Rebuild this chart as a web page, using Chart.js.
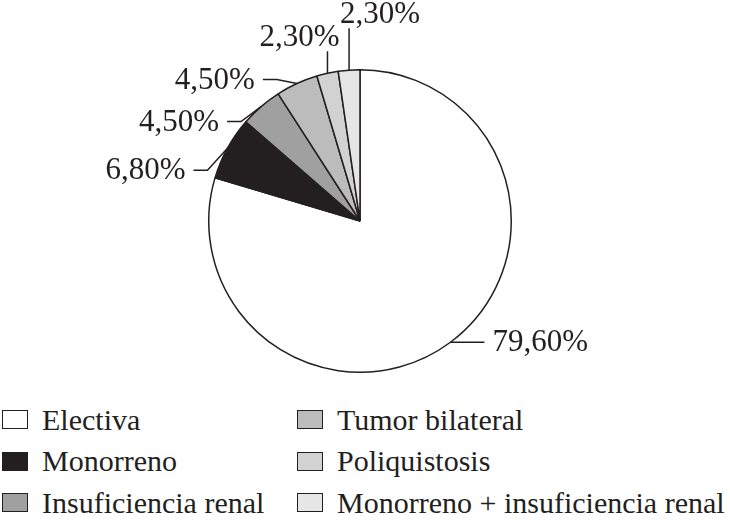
<!DOCTYPE html>
<html>
<head>
<meta charset="utf-8">
<script src="https://cdn.jsdelivr.net/npm/chart.js@4/dist/chart.umd.min.js"></script>
<style>
  html, body { margin: 0; padding: 0; background: #fff; }
  #wrap { position: relative; width: 730px; height: 520px; overflow: hidden; }
  #pie { position: absolute; left: 0; top: 0; }
  .item { position: absolute; display: flex; align-items: center; height: 39px;
          font-family: "Liberation Serif", serif; font-size: 30px; color: #231f20; white-space: nowrap; }
  .box { width: 26px; height: 19px; border: 1.5px solid #231f20; box-sizing: border-box; margin-right: 14px; }
</style>
</head>
<body>
<div id="wrap">
  <canvas id="pie"></canvas>
  <div id="legend"></div>
</div>
<script>
// Datos del gráfico
const categorias = ['Electiva', 'Monorreno', 'Insuficiencia renal', 'Tumor bilateral', 'Poliquistosis', 'Monorreno + insuficiencia renal'];
const porcentajes = [79.6, 6.8, 4.5, 4.5, 2.3, 2.3];
const colores = ['#ffffff', '#231f20', '#a0a0a0', '#bcbcbc', '#d2d2d2', '#e6e6e6'];

const INK = '#231f20';

// Etiquetas con líneas guía (formato 79,60%)
const leaderLabels = {
  id: 'leaderLabels',
  afterDatasetsDraw(chart, args, opts) {
    const ctx = chart.ctx;
    const meta = chart.getDatasetMeta(0);
    ctx.save();
    ctx.strokeStyle = INK;
    ctx.fillStyle = INK;
    ctx.lineWidth = 1.5;
    ctx.font = '31px "Liberation Serif", serif';
    meta.data.forEach(function (arc, i) {
      const cfg = opts.leaders[i];
      const mid = (arc.startAngle + arc.endAngle) / 2;
      const x0 = arc.x + Math.cos(mid) * arc.outerRadius;
      const y0 = arc.y + Math.sin(mid) * arc.outerRadius;
      const txt = porcentajes[i].toFixed(2).replace('.', ',') + '%';
      ctx.beginPath();
      ctx.moveTo(x0, y0);
      if (cfg.dir === 'v') {
        const y1 = y0 - cfg.len;
        ctx.lineTo(x0, y1);
        ctx.stroke();
        ctx.textAlign = cfg.align;
        ctx.textBaseline = 'alphabetic';
        ctx.fillText(txt, x0 + cfg.dx, y1 - 5);
      } else {
        const side = Math.cos(mid) >= 0 ? 1 : -1;
        const yL = y0 + (cfg.dy || 0);
        if (cfg.dy) ctx.lineTo(x0 + side * cfg.elbow, yL);
        const x1 = x0 + side * cfg.len;
        ctx.lineTo(x1, yL);
        ctx.stroke();
        ctx.textAlign = side > 0 ? 'left' : 'right';
        ctx.textBaseline = 'middle';
        ctx.fillText(txt, x1 + side * 8, yL + 1);
      }
    });
    ctx.restore();
  }
};

const canvas = document.getElementById('pie');
canvas.style.width = '730px';
canvas.style.height = '400px';
canvas.width = 730;
canvas.height = 400;

const chart = new Chart(canvas.getContext('2d'), {
  type: 'pie',
  data: {
    labels: categorias,
    datasets: [{
      data: porcentajes,
      backgroundColor: colores,
      borderColor: INK,
      borderWidth: 1.5
    }]
  },
  options: {
    responsive: false,
    animation: false,
    layout: { padding: { left: 208, right: 218, top: 69, bottom: 27 } },
    plugins: {
      legend: { display: false },
      tooltip: { enabled: false },
      leaderLabels: {
        leaders: [
          { dir: 'h', len: 34 },
          { dir: 'h', len: 34, dy: 22, elbow: 20 },
          { dir: 'h', len: 34, dy: 15, elbow: 20 },
          { dir: 'h', len: 34, dy: -4, elbow: 20 },
          { dir: 'v', len: 22, dx: -28, align: 'center' },
          { dir: 'v', len: 42, dx: -9, align: 'left' }
        ]
      }
    }
  },
  plugins: [leaderLabels]
});

// Leyenda en dos columnas (orden por columnas)
const legendEl = document.getElementById('legend');
chart.data.labels.forEach(function (lab, i) {
  const col = Math.floor(i / 3);
  const row = i % 3;
  const item = document.createElement('div');
  item.className = 'item';
  item.style.left = (2 + col * 295) + 'px';
  item.style.top = (400 + row * 41.5) + 'px';
  const box = document.createElement('span');
  box.className = 'box';
  box.style.background = colores[i];
  const txt = document.createElement('span');
  txt.textContent = lab;
  item.appendChild(box);
  item.appendChild(txt);
  legendEl.appendChild(item);
});
</script>
</body>
</html>
